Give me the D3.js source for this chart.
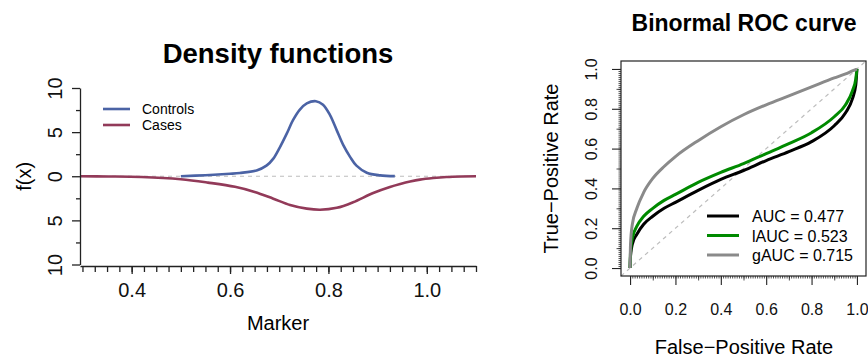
<!DOCTYPE html>
<html>
<head>
<meta charset="utf-8">
<script src="https://cdn.jsdelivr.net/npm/d3@7"></script>
<style>
  body { margin: 0; background: #fff; }
  svg { display: block; font-family: "Liberation Sans", Arial, sans-serif; }
  .axis path, .axis line { stroke: #222; }
  .axis text { fill: #111; font-family: "Liberation Sans", Arial, sans-serif; }
</style>
</head>
<body>
<div id="chart"></div>
<script>
// ---- data ----
// left panel: density of the marker, controls up, cases drawn downwards
const controlsX = [0.50, 0.55, 0.60, 0.62, 0.654, 0.674, 0.688, 0.701, 0.715, 0.728, 0.742, 0.756, 0.7745, 0.789, 0.803, 0.817, 0.830, 0.844, 0.857, 0.878, 0.905, 0.935];
const controlsF = [0.0, 0.12, 0.28, 0.37, 0.66, 1.2, 2.0, 3.25, 4.8, 6.35, 7.55, 8.25, 8.5, 8.1, 6.95, 5.2, 3.55, 2.2, 1.2, 0.4, 0.1, 0.01];
const casesX = [0.295, 0.35, 0.42, 0.50, 0.555, 0.61, 0.65, 0.688, 0.722, 0.756, 0.783, 0.817, 0.850, 0.891, 0.925, 0.946, 0.966, 0.986, 1.013, 1.04, 1.07, 1.10];
const casesF = [0.0, 0.02, 0.08, 0.34, 0.72, 1.2, 1.78, 2.54, 3.25, 3.67, 3.8, 3.58, 2.95, 1.9, 1.22, 0.88, 0.6, 0.38, 0.2, 0.08, 0.02, 0.0];
const densityLegend = ["Controls", "Cases"];
const markerTicks = [0.4, 0.6, 0.8, 1.0];
const densityTicks = [-10, -5, 0, 5, 10];

// right panel: binormal ROC curves
const fpr = [0, 0.002, 0.01, 0.03, 0.06, 0.1, 0.15, 0.2, 0.3, 0.4, 0.5, 0.6, 0.7, 0.8, 0.9, 0.95, 0.98, 0.995, 1];
const tprAUC = [0, 0.06, 0.12, 0.17, 0.22, 0.26, 0.30, 0.33, 0.39, 0.445, 0.49, 0.54, 0.585, 0.635, 0.715, 0.78, 0.85, 0.92, 1.0];
const tprLAUC = [0, 0.08, 0.15, 0.21, 0.26, 0.30, 0.34, 0.37, 0.43, 0.48, 0.525, 0.575, 0.625, 0.68, 0.76, 0.82, 0.89, 0.95, 1.0];
const tprGAUC = [0, 0.12, 0.22, 0.30, 0.38, 0.45, 0.51, 0.56, 0.64, 0.71, 0.77, 0.82, 0.865, 0.91, 0.955, 0.975, 0.99, 0.997, 1.0];
const rocLegend = ["AUC = 0.477", "lAUC = 0.523", "gAUC = 0.715"];
const rateTicks = [0, 0.2, 0.4, 0.6, 0.8, 1.0];

const svg = d3.select("#chart").append("svg")
  .attr("width", 868)
  .attr("height", 358);

// ================= left panel =================
const xL = d3.scaleLinear().domain([0.295, 1.1]).range([80, 476]);
const yL = d3.scaleLinear().domain([-10, 10]).range([264.5, 88]);

svg.append("text")
  .attr("x", 278).attr("y", 63)
  .attr("text-anchor", "middle")
  .attr("font-size", 27.5).attr("font-weight", "bold")
  .text("Density functions");

// zero reference
svg.append("line")
  .attr("x1", xL.range()[0]).attr("x2", xL.range()[1])
  .attr("y1", yL(0)).attr("y2", yL(0))
  .attr("stroke", "#bdbdbd").attr("stroke-width", 1.2)
  .attr("stroke-dasharray", "4,4");

const lineL = d3.line().x(d => xL(d[0])).y(d => yL(d[1])).curve(d3.curveCatmullRom.alpha(0.5));

svg.append("path")
  .datum(casesX.map((x, i) => [x, -casesF[i]]))
  .attr("d", lineL)
  .attr("fill", "none").attr("stroke", "#923a59").attr("stroke-width", 2.6);

svg.append("path")
  .datum(controlsX.map((x, i) => [x, controlsF[i]]))
  .attr("d", lineL)
  .attr("fill", "none").attr("stroke", "#4b63a5").attr("stroke-width", 2.6);

// x axis
const xAxisL = svg.append("g").attr("class", "axis")
  .attr("transform", "translate(0,266)");
xAxisL.call(d3.axisBottom(xL)
  .tickValues(d3.range(33).map(i => 0.3 + i * 0.025))
  .tickFormat("").tickSize(6).tickSizeOuter(0));
xAxisL.append("g").call(d3.axisBottom(xL)
  .tickValues(markerTicks).tickFormat(d3.format(".1f"))
  .tickSize(8).tickSizeOuter(0))
  .call(g => g.select(".domain").remove());
xAxisL.selectAll("path, line").attr("stroke-width", 1.3);
xAxisL.selectAll("text").attr("font-size", 20).attr("y", 17);

svg.append("text")
  .attr("x", 278).attr("y", 330)
  .attr("text-anchor", "middle").attr("font-size", 20)
  .text("Marker");

// y axis
const yAxisL = svg.append("g").attr("class", "axis")
  .attr("transform", "translate(80,0)");
yAxisL.call(d3.axisLeft(yL)
  .tickValues([-7.5, -2.5, 2.5, 7.5]).tickFormat("")
  .tickSize(4).tickSizeOuter(0));
yAxisL.append("g").call(d3.axisLeft(yL)
  .tickValues(densityTicks).tickFormat(d => Math.abs(d))
  .tickSize(8).tickSizeOuter(0))
  .call(g => g.select(".domain").remove());
yAxisL.selectAll("path, line").attr("stroke-width", 1.3);
yAxisL.selectAll("text")
  .attr("font-size", 20)
  .attr("x", 0).attr("dy", 0)
  .attr("text-anchor", "middle")
  .attr("transform", "translate(-18,0) rotate(-90)");

svg.append("text")
  .attr("transform", `translate(31,${yL(0)}) rotate(-90)`)
  .attr("text-anchor", "middle").attr("font-size", 20)
  .text("f(x)");

// legend
const legL = svg.append("g");
const legColors = ["#4b63a5", "#923a59"];
densityLegend.forEach((name, i) => {
  const y = 109 + i * 16;
  legL.append("line")
    .attr("x1", 103).attr("x2", 130).attr("y1", y).attr("y2", y)
    .attr("stroke", legColors[i]).attr("stroke-width", 2.6);
  legL.append("text")
    .attr("x", 142).attr("y", y + 5)
    .attr("font-size", 14)
    .text(name);
});

// ================= right panel =================
const xR = d3.scaleLinear().domain([-0.04, 1.04]).range([621, 866]);
const yR = d3.scaleLinear().domain([-0.04, 1.04]).range([276, 61]);

svg.append("text")
  .attr("x", 744).attr("y", 31)
  .attr("text-anchor", "middle")
  .attr("font-size", 23).attr("font-weight", "bold")
  .text("Binormal ROC curve");

// chance line
svg.append("line")
  .attr("x1", xR(-0.04)).attr("y1", yR(-0.04))
  .attr("x2", xR(1.04)).attr("y2", yR(1.04))
  .attr("stroke", "#bdbdbd").attr("stroke-width", 1.2)
  .attr("stroke-dasharray", "4,4");

const lineR = d3.line().x(d => xR(d[0])).y(d => yR(d[1])).curve(d3.curveMonotoneX);
const rocColors = ["#000000", "#008a00", "#8a8a8a"];
[tprAUC, tprLAUC, tprGAUC].forEach((tpr, i) => {
  svg.append("path")
    .datum(fpr.map((f, j) => [f, tpr[j]]))
    .attr("d", lineR)
    .attr("fill", "none")
    .attr("stroke", rocColors[i])
    .attr("stroke-width", 3);
});

// box
svg.append("rect")
  .attr("x", xR.range()[0]).attr("y", yR.range()[1])
  .attr("width", xR.range()[1] - xR.range()[0])
  .attr("height", yR.range()[0] - yR.range()[1])
  .attr("fill", "none").attr("stroke", "#222").attr("stroke-width", 1.2);

const fine = d3.range(101).map(i => i / 100);
const tenths = [0.1, 0.3, 0.5, 0.7, 0.9];

function rateAxis(axisFn, g) {
  g.call(axisFn(g.scale).tickValues(fine).tickFormat("").tickSize(2.5).tickSizeOuter(0))
    .call(s => s.select(".domain").remove());
  g.append("g").call(axisFn(g.scale).tickValues(tenths).tickFormat("").tickSize(4.5).tickSizeOuter(0))
    .call(s => s.select(".domain").remove());
  g.append("g").attr("class", "major").call(axisFn(g.scale).tickValues(rateTicks)
    .tickFormat(d3.format(".1f")).tickSize(9).tickSizeOuter(0))
    .call(s => s.select(".domain").remove());
  g.selectAll("line").attr("stroke-width", 0.8);
  g.selectAll(".major line").attr("stroke-width", 1.1);
  g.selectAll("text").attr("font-size", 16);
}

const xAxisR = svg.append("g").attr("class", "axis").attr("transform", "translate(0,276)");
xAxisR.scale = xR;
rateAxis(d3.axisBottom, xAxisR);
xAxisR.selectAll("text").attr("y", 27.5);

const yAxisR = svg.append("g").attr("class", "axis").attr("transform", "translate(621,0)");
yAxisR.scale = yR;
rateAxis(d3.axisLeft, yAxisR);
yAxisR.selectAll("text")
  .attr("x", 0).attr("dy", 0)
  .attr("text-anchor", "middle")
  .attr("transform", "translate(-24,0) rotate(-90)");

svg.append("text")
  .attr("x", 744).attr("y", 354)
  .attr("text-anchor", "middle").attr("font-size", 20)
  .text("False\u2212Positive Rate");

svg.append("text")
  .attr("transform", `translate(558,${yR(0.5)}) rotate(-90)`)
  .attr("text-anchor", "middle").attr("font-size", 20)
  .text("True\u2212Positive Rate");

// legend
rocLegend.forEach((name, i) => {
  const y = 216 + i * 19.5;
  svg.append("line")
    .attr("x1", 707).attr("x2", 739).attr("y1", y).attr("y2", y)
    .attr("stroke", rocColors[i]).attr("stroke-width", 3);
  svg.append("text")
    .attr("x", 752).attr("y", y + 6)
    .attr("font-size", 16)
    .text(name);
});
</script>
</body>
</html>
